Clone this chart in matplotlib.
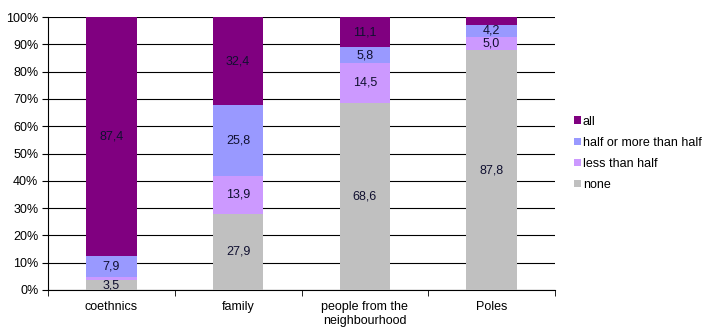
import numpy as np
import matplotlib
matplotlib.use("Agg")
import matplotlib.pyplot as plt
from matplotlib.ticker import FuncFormatter

plt.rcParams['font.family'] = ['Liberation Sans', 'DejaVu Sans']

# Данные
categories = ['coethnics', 'family', 'people from the\nneighbourhood', 'Poles']
none_vals = [3.5, 27.9, 68.6, 87.8]
less_half = [1.2, 13.9, 14.5, 5.0]
half_more = [7.9, 25.8, 5.8, 4.2]
all_vals = [87.4, 32.4, 11.1, 3.0]

series = [
    ('none', none_vals, '#C0C0C0'),
    ('less than half', less_half, '#CC99FF'),
    ('half or more than half', half_more, '#9999FF'),
    ('all', all_vals, '#800080'),
]

fig = plt.figure(figsize=(7.05, 3.32), dpi=100)
ax = fig.add_axes([48 / 705, 42 / 332, 507 / 705, 273 / 332])

x = np.arange(len(categories))
bottom = np.zeros(len(categories))
for name, vals, col in series:
    ax.bar(x, vals, 0.40, bottom=bottom, color=col, label=name, zorder=3)
    for xi, v, bt in zip(x, vals, bottom):
        # маленькие сегменты без подписи
        if v < 3.1:
            continue
        ax.text(xi, bt + v / 2, f'{v:.1f}'.replace('.', ','), ha='center', va='center',
                fontsize=9, color='#101030', zorder=4)
    bottom += np.array(vals)

ax.set_xlim(-0.5, len(categories) - 0.5)
ax.set_ylim(0, 100)
ax.set_yticks(np.arange(0, 101, 10))
ax.yaxis.set_major_formatter(FuncFormatter(lambda v, p: f'{int(v)}%'))
ax.yaxis.grid(True, color='black', linewidth=0.8, zorder=0)

ax.set_xticks(x)
ax.set_xticklabels(categories, fontsize=9)
ax.tick_params(axis='x', length=0, pad=8)
ax.set_xticks(np.arange(-0.5, len(categories)), minor=True)
ax.tick_params(axis='x', which='minor', length=4, direction='out', color='black')
ax.tick_params(axis='y', labelsize=9, length=4, color='black', pad=3)

for s in ['top', 'right']:
    ax.spines[s].set_visible(False)
for s in ['left', 'bottom']:
    ax.spines[s].set_color('black')
    ax.spines[s].set_linewidth(0.8)

handles, labels = ax.get_legend_handles_labels()
fig.legend(handles[::-1], labels[::-1], loc='center left', bbox_to_anchor=(574 / 705, 0.538),
           frameon=False, fontsize=9, handlelength=0.56, handleheight=0.56,
           handletextpad=0.15, labelspacing=0.73, borderpad=0, borderaxespad=0)

plt.savefig('out.png', dpi=100)
